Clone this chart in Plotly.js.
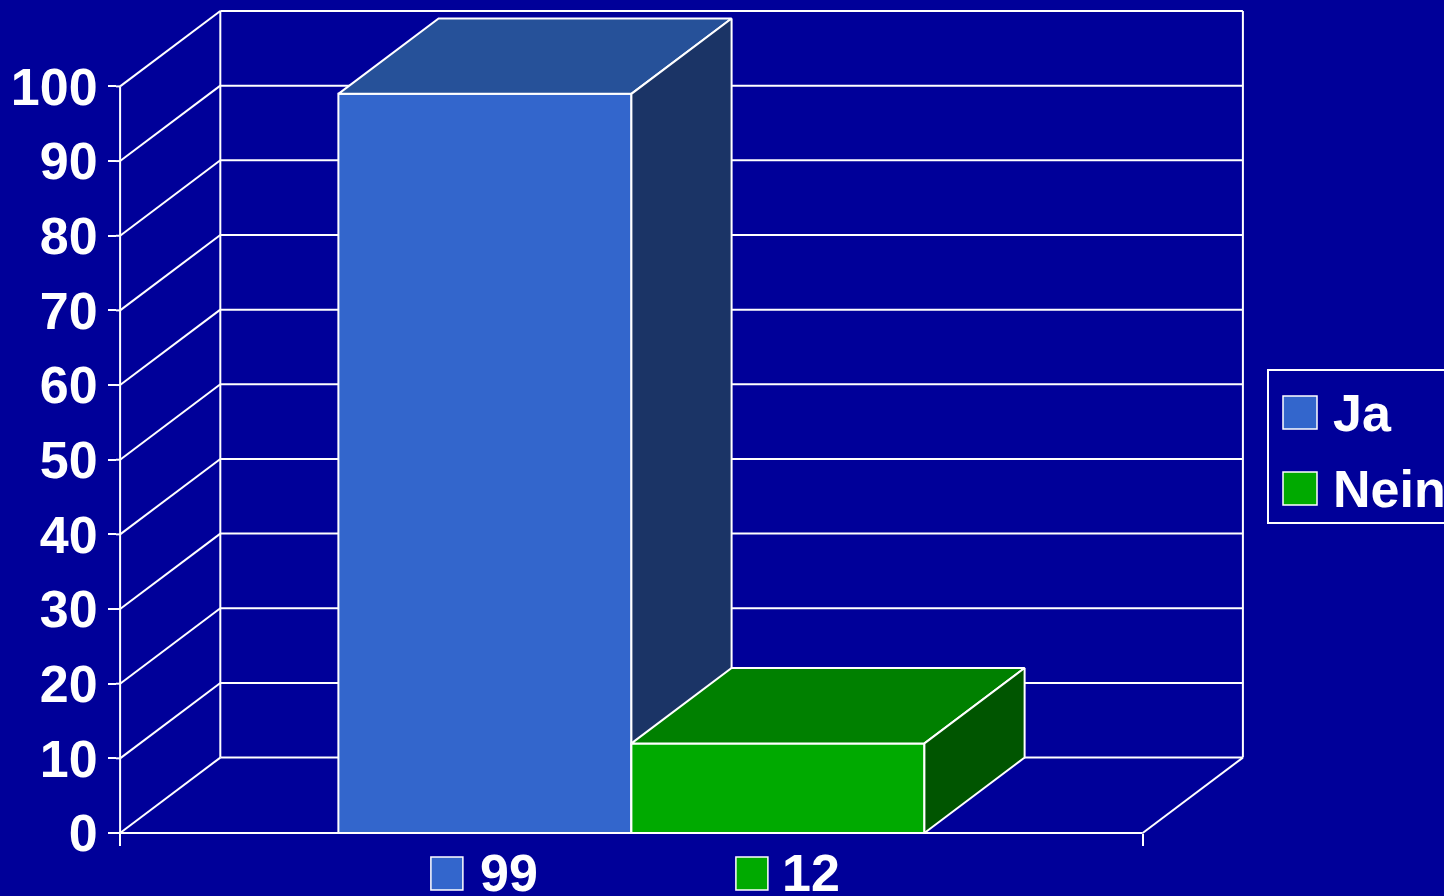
<!DOCTYPE html>
<html>
<head>
<meta charset="utf-8">
<script src="https://cdn.plot.ly/plotly-3.0.1.min.js"></script>
<style>
html,body{margin:0;padding:0;background:#000099;}
#chart{width:1444px;height:896px;}
</style>
</head>
<body>
<div id="chart"></div>
<script>
// ---- data ----
const categories = ['Ja', 'Nein'];
const values = [99, 12];
const bottomLabels = ['99', '12'];
const yTicks = [0, 10, 20, 30, 40, 50, 60, 70, 80, 90, 100];

// ---- style ----
const frontColors = ['#3366CC', '#00AA00'];
const topColors = ['#265199', '#008000'];
const sideColors = ['#1B3466', '#005500'];
const BG = '#000099';
const FONT = 'Liberation Sans, Arial, sans-serif';
const LW = 2;

// ---- 3D geometry (layout constants) ----
const BW = 1;          // bar width
const GAP = 0.745;     // space left/right of the bar group on the front plane
const FRONT = 2 * GAP + categories.length * BW;
const DX = 0.342;      // depth offset in x units
const DY = 10.1;       // depth offset in y units
const XMAX = FRONT + DX;
const P = 0.014, Q = 0.536;
const YTOP = yTicks[yTicks.length - 1];

const traces = [];

// walls, floor and grid
const gx = [], gy = [];
function seg(x0, y0, x1, y1) { gx.push(x0, x1, null); gy.push(y0, y1, null); }
yTicks.forEach(v => {
  seg(DX, v + DY, XMAX, v + DY);      // back wall
  seg(0, v, DX, v + DY);              // side wall
  seg(-P, v, 0, v);                   // tick stub
});
seg(DX, DY, DX, YTOP + DY);
seg(XMAX, DY, XMAX, YTOP + DY);
seg(0, 0, 0, YTOP);                   // value axis line
seg(0, 0, FRONT, 0);                  // front floor edge
seg(FRONT, 0, XMAX, DY);              // right floor edge
traces.push({type: 'scatter', mode: 'lines', x: gx, y: gy,
  line: {color: '#FFFFFF', width: LW}, hoverinfo: 'skip', showlegend: false});

// bars (front, top, side) from values
values.forEach((v, i) => {
  const x0 = GAP + i * BW, x1 = x0 + BW;
  const faces = [
    {x: [x0, x0, x1, x1, x0], y: [0, v, v, 0, 0], c: frontColors[i]},
    {x: [x0, x0 + DX, x1 + DX, x1, x0], y: [v, v + DY, v + DY, v, v], c: topColors[i]},
    {x: [x1, x1 + DX, x1 + DX, x1, x1], y: [0, DY, v + DY, v, 0], c: sideColors[i]}
  ];
  faces.forEach(f => traces.push({
    type: 'scatter', mode: 'lines', x: f.x, y: f.y, fill: 'toself',
    fillcolor: f.c, line: {color: '#FFFFFF', width: LW},
    name: categories[i], hoverinfo: 'name', showlegend: false
  }));
});

// plot geometry in pixels
const ML = 116, MR = 197, MT = 7, MB = 59;
const PW = 1444 - ML - MR, PH = 896 - MT - MB;
const px2paperX = px => (px - ML) / PW;
const px2paperY = py => (896 - MB - py) / PH;

const shapes = [];
const annotations = [];

// bottom category labels with colour keys
const keyOffsets = [[-54, -22, -7], [-42, -10, 2]];
values.forEach((v, i) => {
  const cx = GAP + i * BW + BW / 2;
  shapes.push({type: 'rect', xref: 'x', yref: 'paper', xsizemode: 'pixel', ysizemode: 'pixel',
    xanchor: cx, yanchor: 0, x0: keyOffsets[i][0], x1: keyOffsets[i][1], y0: -20, y1: -53,
    fillcolor: frontColors[i], line: {color: '#FFFFFF', width: 1.5}});
  annotations.push({xref: 'x', yref: 'paper', x: cx, y: 0, xanchor: 'left', yanchor: 'top',
    xshift: keyOffsets[i][2], yshift: -5, showarrow: false, text: bottomLabels[i],
    font: {family: FONT, size: 52, color: '#FFFFFF', weight: 'bold'}});
});

// legend box
shapes.push({type: 'rect', xref: 'paper', yref: 'paper',
  x0: px2paperX(1268), x1: px2paperX(1470), y0: px2paperY(523), y1: px2paperY(370),
  fillcolor: BG, line: {color: '#FFFFFF', width: LW}});
const legendRows = [[396, 429], [472, 505]];
categories.forEach((c, i) => {
  const [t, b] = legendRows[i];
  shapes.push({type: 'rect', xref: 'paper', yref: 'paper',
    x0: px2paperX(1283), x1: px2paperX(1317), y0: px2paperY(b), y1: px2paperY(t),
    fillcolor: frontColors[i], line: {color: '#FFFFFF', width: 1.5}});
  annotations.push({xref: 'paper', yref: 'paper', x: px2paperX(1331), y: px2paperY((t + b) / 2),
    xanchor: 'left', yanchor: 'middle', showarrow: false, text: c,
    font: {family: FONT, size: 52, color: '#FFFFFF', weight: 'bold'}});
});

const layout = {
  width: 1444, height: 896,
  margin: {l: ML, r: MR, t: MT, b: MB, autoexpand: false},
  paper_bgcolor: BG, plot_bgcolor: BG,
  showlegend: false,
  xaxis: {range: [-P, XMAX + P], showgrid: false, zeroline: false, showline: false,
    tickvals: [0, FRONT], showticklabels: false, ticks: 'outside', ticklen: 12,
    tickwidth: LW, tickcolor: '#FFFFFF', anchor: 'free', position: Q / (YTOP + DY + 2 * Q),
    fixedrange: true},
  yaxis: {range: [-Q, YTOP + DY + Q], showgrid: false, zeroline: false, showline: false,
    tickvals: yTicks, ticktext: yTicks.map(String), ticks: 'outside', ticklen: 8,
    tickwidth: LW, tickcolor: '#FFFFFF', anchor: 'free', position: 0,
    tickfont: {family: FONT, size: 52, color: '#FFFFFF', weight: 'bold'},
    fixedrange: true},
  shapes: shapes,
  annotations: annotations
};

Plotly.newPlot('chart', traces, layout, {displayModeBar: false, staticPlot: true});
</script>
</body>
</html>
